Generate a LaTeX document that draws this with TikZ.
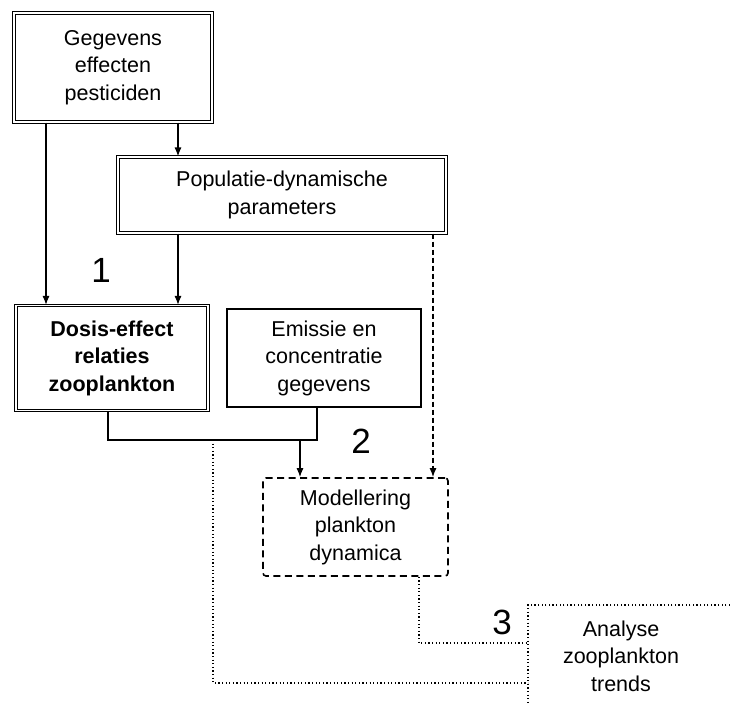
\documentclass[tikz,border=0pt]{standalone}
\usepackage{fontspec}
\setmainfont{Liberation Sans}
\usetikzlibrary{arrows.meta, positioning}

\tikzset{
  txt/.style={align=center, inner sep=0pt, font=\fontsize{21.5}{27.5}\selectfont},
  dbox/.style={txt, draw, double, line width=1.1pt, double distance=1.3pt},
  sbox/.style={txt, draw, line width=1.9pt},
  dashbox/.style={txt, draw, line width=1.6pt, dash pattern=on 7pt off 4.5pt, rounded corners=3pt},
  arr/.style={-{Latex[length=9pt,width=7pt]}, line width=1.2pt},
  dotline/.style={line width=1.4pt, dash pattern=on 1.2pt off 2.4pt},
  num/.style={font=\fontsize{35}{35}\selectfont, inner sep=0pt}
}

\begin{document}
\begin{tikzpicture}[x=1pt,y=-1pt]
\useasboundingbox (0,0) rectangle (730,703);
% boxes
\node[dbox,minimum width=198pt,minimum height=109pt] (geg) at (113,67.5) {Gegevens\\effecten\\pesticiden};
\node[dbox,minimum width=328pt,minimum height=76pt] (pop) at (282,195) {Populatie-dynamische\\parameters};
\node[dbox,minimum width=192pt,minimum height=105pt,font=\fontsize{21.5}{27.5}\selectfont\bfseries] (dos) at (112,358) {Dosis-effect\\relaties\\zooplankton};
\node[sbox,minimum width=194pt,minimum height=98pt] (emi) at (324,358) {Emissie en\\concentratie\\gegevens};
\node[dashbox,minimum width=185pt,minimum height=98pt] (mod) at (355.5,527) {Modellering\\plankton\\dynamica};
\node[txt] (ana) at (621,656) {Analyse\\zooplankton\\trends};
\draw[dotline] (730,605) -- (528,605) -- (528,703);
\coordinate (anaL1) at (528,643);
\coordinate (anaL2) at (528,683);
% numbers
\node[num] (n1) at (101,270) {1};
\node[num] (n2) at (361,441) {2};
\node[num] (n3) at (502,622) {3};
% connectors
\draw[arr] (geg.south -| 46,0) -- (dos.north -| 46,0);
\draw[arr] (geg.south -| 178,0) -- (pop.north -| 178,0);
\draw[arr] (pop.south -| 178,0) -- (dos.north -| 178,0);
\draw[arr, line width=1.4pt, dash pattern=on 5pt off 3pt] (pop.south -| 433,0) -- (mod.north -| 433,0);
\coordinate (bus) at (300,440);
\draw[line width=1.3pt] (dos.south -| 108,0) |- (bus) -| (emi.south -| 317,0);
\draw[arr] (bus) -- (mod.north -| bus);
\draw[dotline] (213,440) |- (anaL2);
\draw[dotline] (mod.south -| 419,0) |- (anaL1);
\end{tikzpicture}
\end{document}
